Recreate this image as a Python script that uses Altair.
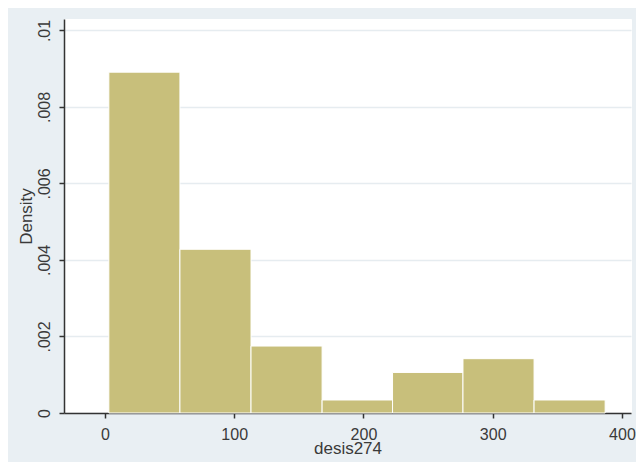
import altair as alt
import pandas as pd

# Histogram bins
bin_starts = [3, 58, 113, 168, 222.5, 277, 332]
bin_ends = [58, 113, 168, 222.5, 277, 332, 387]
density = [0.00891, 0.00428, 0.00175, 0.00034, 0.00106, 0.00142, 0.00034]

x_ticks = [0, 100, 200, 300, 400]
y_ticks = [0, 0.002, 0.004, 0.006, 0.008, 0.01]

df = pd.DataFrame({"start": bin_starts, "end": bin_ends, "density": density})

FONT = "Liberation Sans"
TXT = "#3a3a3a"
AX = "#333333"

bars = alt.Chart(df).mark_rect(
    color="#c8bf7b", stroke="#ffffff", strokeWidth=1
).encode(
    x=alt.X(
        "start:Q",
        scale=alt.Scale(domain=[-31.7, 407.0], nice=False, zero=False),
        axis=alt.Axis(
            values=x_ticks, format="d", grid=False,
            labelFont=FONT, labelFontSize=16, labelColor=TXT,
            labelBaseline="alphabetic", labelPadding=21, labelFlush=False,
            labelOverlap=False,
            tickSize=5, tickColor=AX, tickWidth=1.5,
            domainColor=AX, domainWidth=1.5,
            titleFont=FONT, titleFontSize=17, titleFontWeight="normal",
            titleColor=TXT, titleBaseline="alphabetic", titleY=40,
        ),
        title="desis274",
    ),
    x2="end:Q",
    y=alt.Y(
        "density:Q",
        scale=alt.Scale(domain=[0, 0.0103], nice=False),
        axis=alt.Axis(
            values=y_ticks,
            labelExpr="datum.value == 0 ? '0' : substring(format(datum.value, '.3~f'), 1)",
            labelAngle=270, labelAlign="center", labelBaseline="alphabetic",
            labelPadding=10, labelFlush=False, labelOverlap=False,
            labelFont=FONT, labelFontSize=16, labelColor=TXT,
            tickSize=5, tickColor=AX, tickWidth=1.5,
            domainColor=AX, domainWidth=1.5,
            grid=True, gridColor="#e6ecf0", gridWidth=1.5,
            titleFont=FONT, titleFontSize=17, titleFontWeight="normal",
            titleColor=TXT, titleAngle=270, titleBaseline="alphabetic",
            titleAlign="center", titleX=-33, titleY=197,
        ),
        title="Density",
    ),
    y2=alt.datum(0),
)

chart = bars.properties(
    width=567,
    height=394,
    background="#e9eff3",
    padding={"left": 56, "top": 11, "right": 5, "bottom": 49},
    autosize=alt.AutoSizeParams(type="none"),
).configure_view(fill="#ffffff", stroke="#ffffff")

chart.save("out.html", embed_options={"renderer": "svg", "actions": False})
